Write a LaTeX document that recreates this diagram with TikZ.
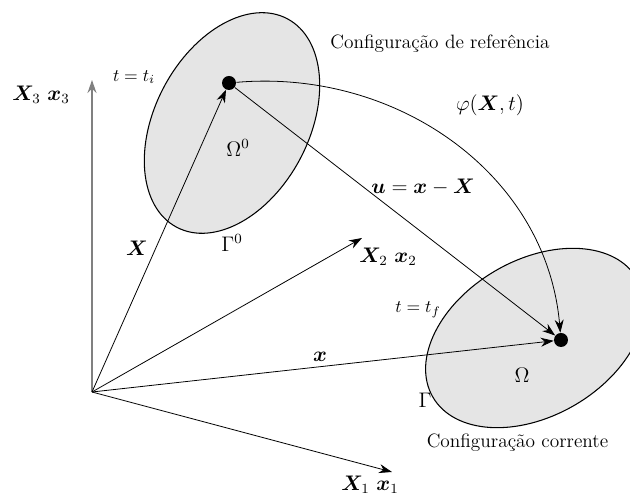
\documentclass[tikz,border=0pt]{standalone}
\usepackage{amsmath}
\usepackage{bm}
\usetikzlibrary{arrows.meta, positioning}

\begin{document}
\begin{tikzpicture}[
      body/.style={draw=black, fill=gray!20, line width=0.6pt},
      point/.style={circle, fill=black, inner sep=0pt, minimum size=0.28cm},
      vec/.style={-{Stealth[length=2.6mm, width=1.8mm]}, line width=0.45pt},
      axis/.style={vec},
      label/.style={inner sep=1pt},
      config/.style={label, font=\fontsize{11}{13}\selectfont}
    ]
    \clip (0,0) rectangle (12.6,9.96);
    % bodies
    \draw[body] (4.64,7.50) ellipse [x radius=2.36, y radius=1.54, rotate=62];
    \draw[body] (10.70,3.20) ellipse [x radius=2.36, y radius=1.56, rotate=30];
    \node[point] (p0) at (4.58,8.30) {};
    \node[point] (p) at (11.22,3.16) {};
    % axes
    \coordinate (O) at (1.84,2.12);
    \coordinate (e1) at (7.84,0.52);
    \coordinate (e2) at (7.24,5.20);
    \coordinate (e3) at (1.84,8.36);
    \draw[axis, draw=gray, line width=0.8pt] (O) -- (e3);
    \draw[axis] (O) -- (e2);
    \draw[axis] (O) -- (e1);
    \node[label] (l3) at (0.82,8.06) {\large$\bm{X}_3\ \bm{x}_3$};
    \node[label] (l2) at (7.76,4.82) {\large$\bm{X}_2\ \bm{x}_2$};
    \node[label] (l1) at (7.40,0.26) {\large$\bm{X}_1\ \bm{x}_1$};
    % vectors
    \draw[vec] (O) -- (p0);
    \draw[vec] (O) -- (p);
    \draw[vec] (p0) -- (p);
    \draw[vec] (p0) to[out=5, in=95] (p);
    \node[label] (lX) at (2.74,5.00) {\large$\bm{X}$};
    \node[label] (lx) at (6.40,2.82) {\large$\bm{x}$};
    \node[label] (lu) at (8.46,6.22) {\large$\bm{u}=\bm{x}-\bm{X}$};
    \node[label] (lphi) at (9.80,7.86) {\large$\varphi(\bm{X},t)$};
    % texts
    \node[label] (ti) at (2.68,8.42) {$t=t_i$};
    \node[label] (tf) at (8.36,3.76) {$t=t_f$};
    \node[label] (om0) at (4.76,7.00) {\large$\Omega^0$};
    \node[label] (ga0) at (4.64,5.10) {\large$\Gamma^0$};
    \node[label] (om) at (10.44,2.46) {\large$\Omega$};
    \node[label] (ga) at (8.50,1.96) {\large$\Gamma$};
    \node[config] (cref) at (8.80,9.08) {Configura\c{c}\~ao de refer\^encia};
    \node[config] (ccur) at (10.35,1.10) {Configura\c{c}\~ao corrente};
  \end{tikzpicture}
\end{document}
